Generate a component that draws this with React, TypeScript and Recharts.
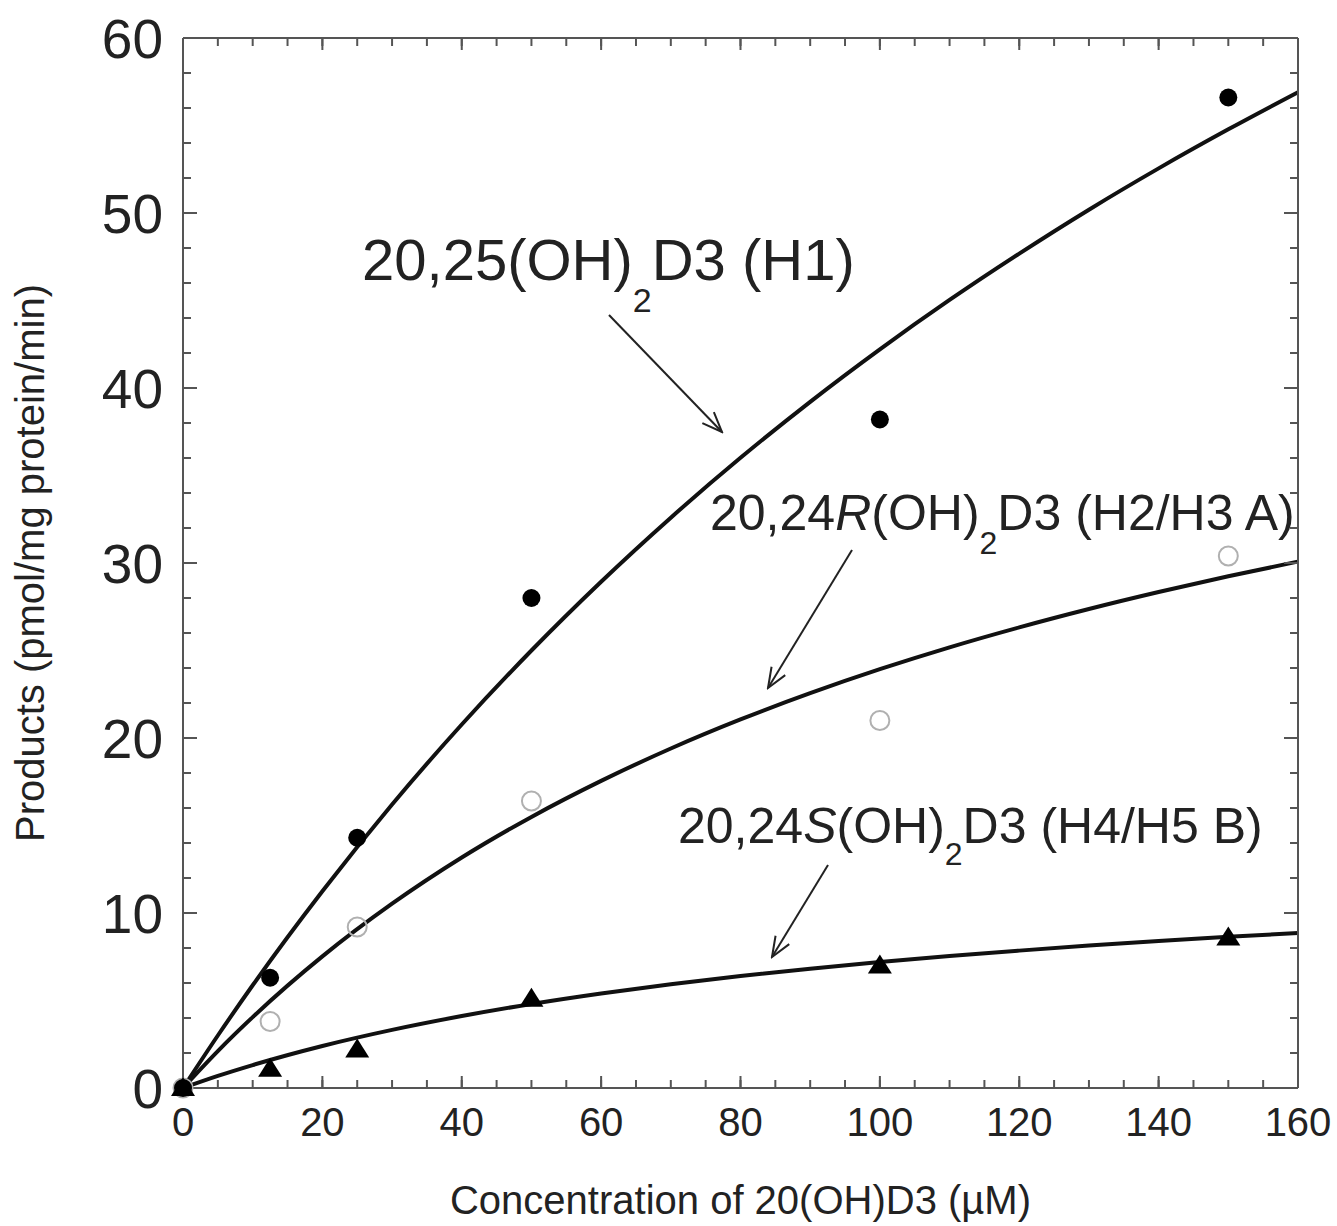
import { ComposedChart, Line, Scatter, XAxis, YAxis, Label } from 'recharts'

// measured substrate concentrations (µM)
const conc = [0, 12.5, 25, 50, 100, 150]
const h1 = [0, 6.3, 14.3, 28.0, 38.2, 56.6]
const h2h3 = [0, 3.8, 9.2, 16.4, 21.0, 30.4]
const h4h5 = [0, 1.1, 2.2, 5.1, 7.0, 8.6]

// fitted curves
const fitX = [0, 5, 10, 20, 30, 40, 50, 60, 70, 80, 90, 100, 110, 120, 130, 140, 150, 160]
const fitH1 = [0, 3.0, 5.87, 11.24, 16.2, 20.77, 25.0, 28.93, 32.59, 36.01, 39.21, 42.21, 45.03, 47.68, 50.19, 52.55, 54.78, 56.9]
const fitH2H3 = [0, 2.11, 4.05, 7.52, 10.53, 13.17, 15.49, 17.55, 19.4, 21.06, 22.56, 23.93, 25.18, 26.32, 27.37, 28.34, 29.24, 30.08]
const fitH4H5 = [0, 0.69, 1.31, 2.4, 3.32, 4.11, 4.8, 5.4, 5.93, 6.4, 6.82, 7.2, 7.54, 7.85, 8.14, 8.4, 8.64, 8.86]

const xTicks = [0, 20, 40, 60, 80, 100, 120, 140, 160]
const xMinorTicks = [0, 5, 10, 15, 20, 25, 30, 35, 40, 45, 50, 55, 60, 65, 70, 75, 80, 85, 90, 95, 100, 105, 110, 115, 120, 125, 130, 135, 140, 145, 150, 155, 160]
const yTicks = [0, 10, 20, 30, 40, 50, 60]
const yMinorTicks = [0, 2, 4, 6, 8, 10, 12, 14, 16, 18, 20, 22, 24, 26, 28, 30, 32, 34, 36, 38, 40, 42, 44, 46, 48, 50, 52, 54, 56, 58, 60]

const FONT = '"Liberation Sans", Arial, sans-serif'
const FRAME = '#555'
const TICK_LINE = { stroke: FRAME, strokeWidth: 2 }

const points = (ys: number[]) => conc.map((x, i) => ({ x, y: ys[i] }))
const curve = (ys: number[]) => fitX.map((x, i) => ({ x, y: ys[i] }))

const FilledDot = (p: any) => <circle cx={p.cx} cy={p.cy} r={9} fill="#000" />
const OpenDot = (p: any) => <circle cx={p.cx} cy={p.cy} r={9.5} fill="none" stroke="#b0b0b0" strokeWidth={2} />
const Triangle = (p: any) => (
  <path d={`M${p.cx},${p.cy - 11} L${p.cx + 12},${p.cy + 8} L${p.cx - 12},${p.cy + 8} Z`} fill="#000" />
)
const Nothing = () => <g />

function Annotations() {
  const arrow = { stroke: '#222', strokeWidth: 2, markerEnd: 'url(#head)' }
  return (
    <svg width={1337} height={1226} style={{ position: 'absolute', left: 0, top: 0, pointerEvents: 'none' }}>
      <defs>
        <marker id="head" viewBox="0 0 24 24" refX="22" refY="12" markerWidth="24" markerHeight="24" markerUnits="userSpaceOnUse" orient="auto">
          <path d="M2,4 L22,12 L2,20" fill="none" stroke="#222" strokeWidth={2} />
        </marker>
      </defs>
      <g fontFamily={FONT} fill="#222">
        <text x={362} y={280} fontSize={58}>
          20,25(OH)<tspan fontSize={34} dy={32}>2</tspan>
          <tspan dy={-32}>D3 (H1)</tspan>
        </text>
        <text x={710} y={530} fontSize={50}>
          20,24<tspan fontStyle="italic">R</tspan>(OH)<tspan fontSize={32} dy={24}>2</tspan>
          <tspan dy={-24}>D3 (H2/H3 A)</tspan>
        </text>
        <text x={678} y={843} fontSize={50}>
          20,24<tspan fontStyle="italic">S</tspan>(OH)<tspan fontSize={32} dy={22}>2</tspan>
          <tspan dy={-22}>D3 (H4/H5 B)</tspan>
        </text>
      </g>
      <line x1={609} y1={315} x2={722} y2={432} {...arrow} />
      <line x1={852} y1={550} x2={768} y2={688} {...arrow} />
      <line x1={828} y1={865} x2={772} y2={957} {...arrow} />
    </svg>
  )
}

export default function App() {
  const tickFont = { fontFamily: FONT, fill: '#222' }
  return (
    <div style={{ position: 'absolute', left: 0, top: 0, width: 1337, height: 1226, background: '#fff' }}>
      <ComposedChart width={1337} height={1226} margin={{ top: 38, right: 39, bottom: 0, left: 0 }}>
        {/* inward tick marks: mirrored axes sitting on the frame */}
        <XAxis xAxisId="in" type="number" dataKey="x" domain={[0, 160]} ticks={xTicks} height={1} mirror
          tick={Nothing} axisLine={false} tickSize={12} tickLine={TICK_LINE} />
        <XAxis xAxisId="inMinor" type="number" dataKey="x" domain={[0, 160]} ticks={xMinorTicks} height={1} mirror
          tick={Nothing} axisLine={false} tickSize={7} tickLine={TICK_LINE} />
        <XAxis xAxisId="top" orientation="top" type="number" dataKey="x" domain={[0, 160]} ticks={xTicks} height={1} mirror
          tick={Nothing} axisLine={TICK_LINE} tickSize={12} tickLine={TICK_LINE} />
        <XAxis xAxisId="topMinor" orientation="top" type="number" dataKey="x" domain={[0, 160]} ticks={xMinorTicks} height={1} mirror
          tick={Nothing} axisLine={false} tickSize={7} tickLine={TICK_LINE} />
        <YAxis yAxisId="in" type="number" domain={[0, 60]} ticks={yTicks} width={1} mirror
          tick={Nothing} axisLine={false} tickSize={14} tickLine={TICK_LINE} />
        <YAxis yAxisId="inMinor" type="number" domain={[0, 60]} ticks={yMinorTicks} width={1} mirror
          tick={Nothing} axisLine={false} tickSize={7} tickLine={TICK_LINE} />
        <YAxis yAxisId="right" orientation="right" type="number" domain={[0, 60]} ticks={yTicks} width={1} mirror
          tick={Nothing} axisLine={TICK_LINE} tickSize={14} tickLine={TICK_LINE} />
        <YAxis yAxisId="rightMinor" orientation="right" type="number" domain={[0, 60]} ticks={yMinorTicks} width={1} mirror
          tick={Nothing} axisLine={false} tickSize={7} tickLine={TICK_LINE} />

        <XAxis type="number" dataKey="x" domain={[0, 160]} ticks={xTicks} height={138}
          tick={{ ...tickFont, fontSize: 40 }} tickSize={0} tickMargin={20}
          axisLine={TICK_LINE} tickLine={false}>
          <Label
            content={(props: any) => {
              const vb = props.viewBox
              return (
                <text x={vb.x + vb.width / 2} y={1214} textAnchor="middle" fontSize={40} fontFamily={FONT} fill="#222">
                  Concentration of 20(OH)D3 (µM)
                </text>
              )
            }}
          />
        </XAxis>
        <YAxis type="number" domain={[0, 60]} ticks={yTicks} width={183}
          tick={{ ...tickFont, fontSize: 55 }} tickSize={0} tickMargin={20}
          axisLine={TICK_LINE} tickLine={false}>
          <Label
            content={(props: any) => {
              const vb = props.viewBox
              const cy = vb.y + vb.height / 2
              return (
                <text x={30} y={cy} transform={`rotate(-90 30 ${cy})`} textAnchor="middle" dominantBaseline="central"
                  fontSize={40} fontFamily={FONT} fill="#222">
                  Products (pmol/mg protein/min)
                </text>
              )
            }}
          />
        </YAxis>

        {/* invisible series so every tick-mark axis gets a scale */}
        <Scatter xAxisId="in" yAxisId="in" data={points(h1)} dataKey="y" shape={Nothing} isAnimationActive={false} />
        <Scatter xAxisId="inMinor" yAxisId="inMinor" data={points(h1)} dataKey="y" shape={Nothing} isAnimationActive={false} />
        <Scatter xAxisId="top" yAxisId="right" data={points(h1)} dataKey="y" shape={Nothing} isAnimationActive={false} />
        <Scatter xAxisId="topMinor" yAxisId="rightMinor" data={points(h1)} dataKey="y" shape={Nothing} isAnimationActive={false} />

        <Line data={curve(fitH1)} dataKey="y" type="monotone" stroke="#111" strokeWidth={4} dot={false} isAnimationActive={false} />
        <Line data={curve(fitH2H3)} dataKey="y" type="monotone" stroke="#111" strokeWidth={4} dot={false} isAnimationActive={false} />
        <Line data={curve(fitH4H5)} dataKey="y" type="monotone" stroke="#111" strokeWidth={4} dot={false} isAnimationActive={false} />

        <Scatter data={points(h2h3)} dataKey="y" shape={OpenDot} isAnimationActive={false} />
        <Scatter data={points(h1)} dataKey="y" shape={FilledDot} isAnimationActive={false} />
        <Scatter data={points(h4h5)} dataKey="y" shape={Triangle} isAnimationActive={false} />
      </ComposedChart>
      <Annotations />
    </div>
  )
}
